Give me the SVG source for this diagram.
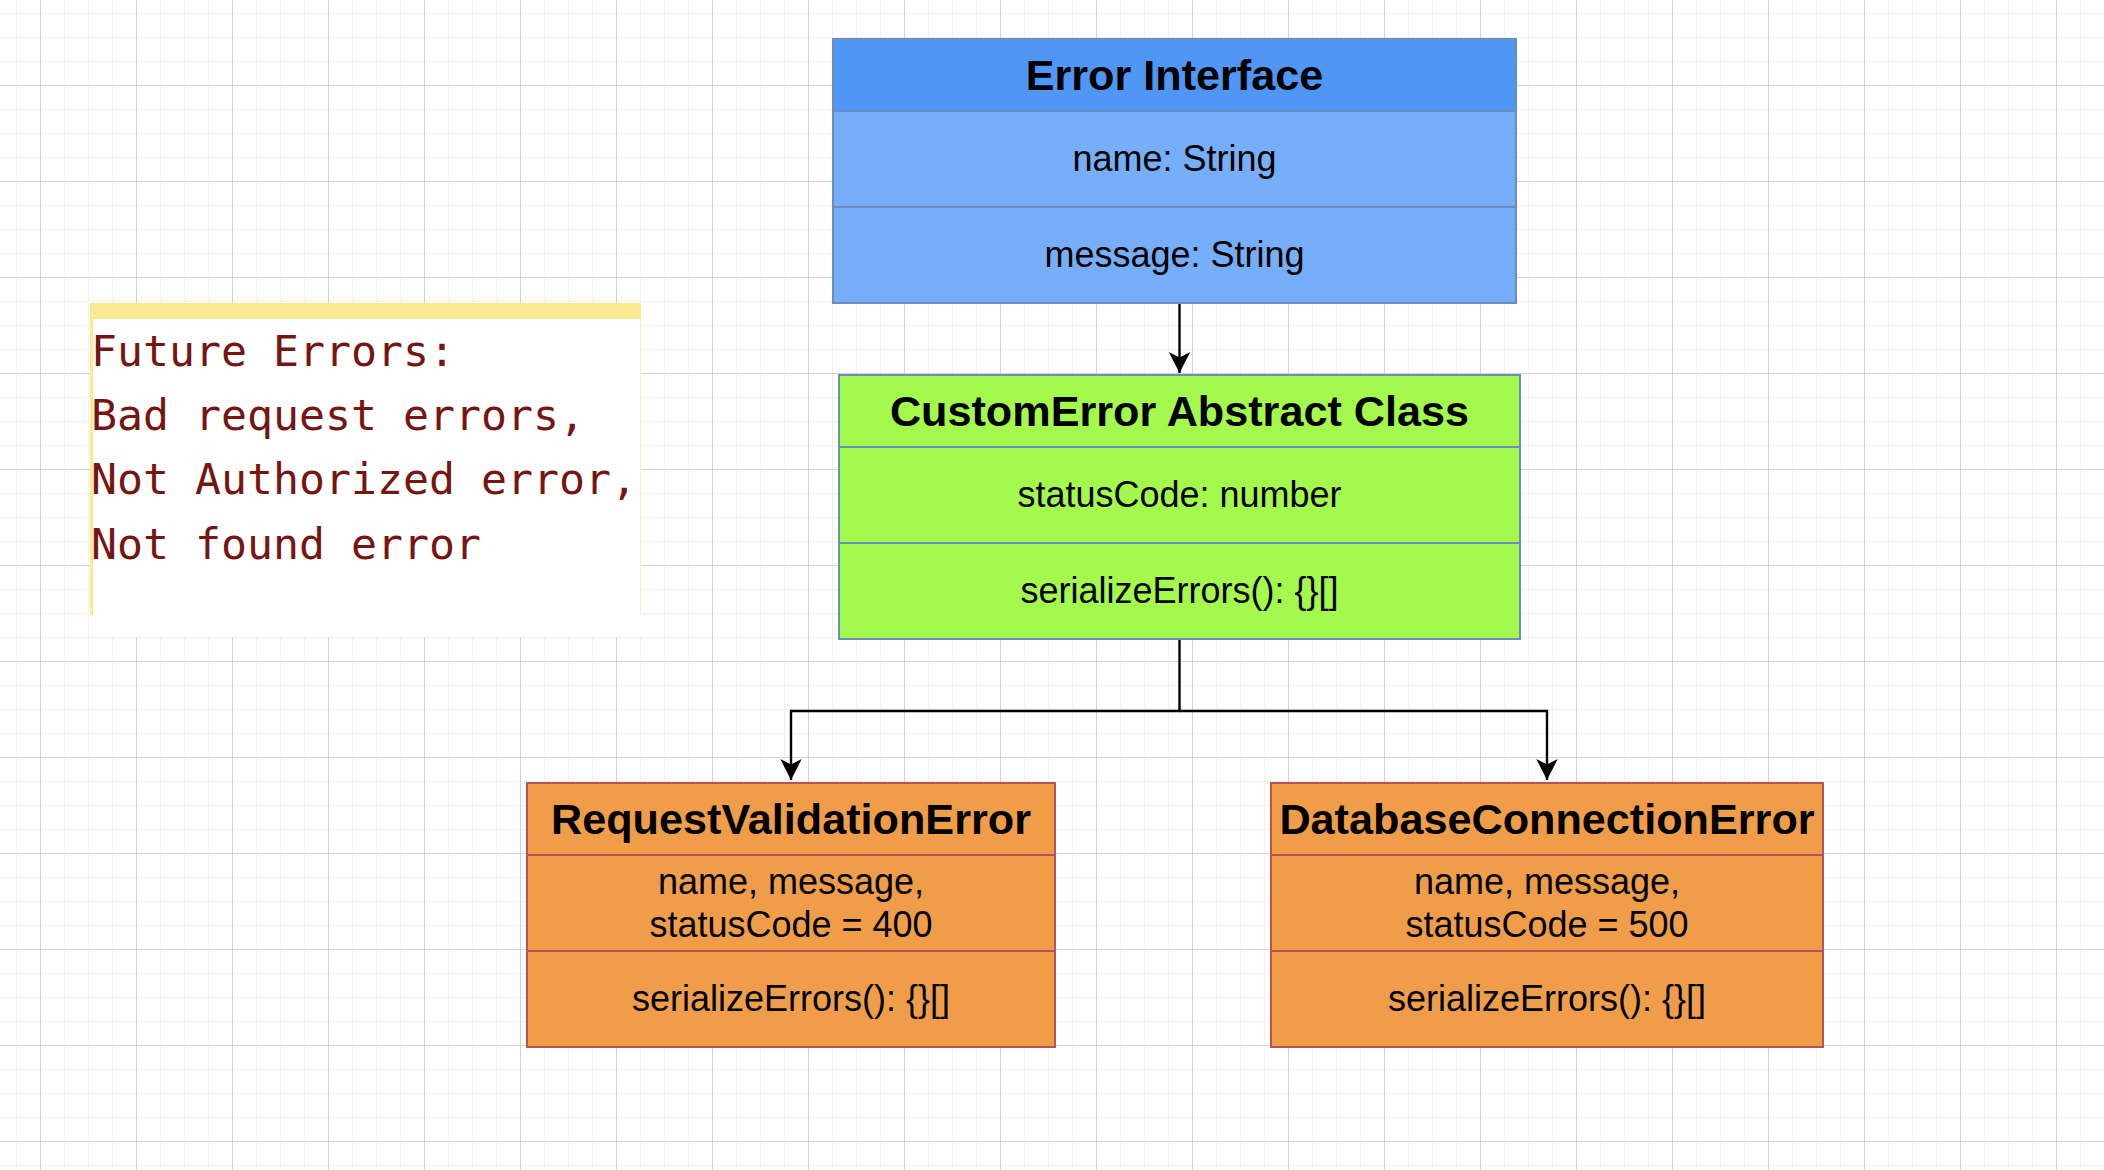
<svg xmlns="http://www.w3.org/2000/svg" width="2104" height="1170" viewBox="0 0 2104 1170">
<defs>
<pattern id="grid" patternUnits="userSpaceOnUse" x="40" y="85" width="96" height="96">
<rect x="24" y="0" width="1" height="96" fill="#f1f1f1"/>
<rect x="48" y="0" width="1" height="96" fill="#f1f1f1"/>
<rect x="72" y="0" width="1" height="96" fill="#f1f1f1"/>
<rect x="0" y="24" width="96" height="1" fill="#f1f1f1"/>
<rect x="0" y="48" width="96" height="1" fill="#f1f1f1"/>
<rect x="0" y="72" width="96" height="1" fill="#f1f1f1"/>
<rect x="0" y="0" width="1" height="96" fill="#d2d2d2"/>
<rect x="0" y="0" width="96" height="1" fill="#d2d2d2"/>
</pattern>
<marker id="arr" markerUnits="userSpaceOnUse" markerWidth="24" markerHeight="24" viewBox="-12 -22 24 24" refX="0" refY="0" orient="auto-start-reverse" overflow="visible">
<path d="M0,0 L-10.7,-21 L0,-15.5 L10.7,-21 Z" fill="#000" transform="rotate(-90)"/>
</marker>
</defs>
<style>
.t{font-family:"Liberation Sans",Arial,sans-serif;font-weight:bold;font-size:43.2px;fill:#000;text-anchor:middle}
.a{font-family:"Liberation Sans",Arial,sans-serif;font-size:36px;fill:#000;text-anchor:middle}
.blue{stroke:#6c8ebf;stroke-width:2}
.green{fill:#a3f94c;stroke:#6c8ebf;stroke-width:2}
.orange{fill:#f09d4a;stroke:#b85450;stroke-width:2}
.mono{font-family:"DejaVu Sans Mono","Liberation Mono",monospace;font-size:43.2px;fill:#761512}
.conn{fill:none;stroke:#000;stroke-width:2.4}
</style>
<rect width="2104" height="1170" fill="#fff"/>
<rect width="2104" height="1170" fill="url(#grid)"/>

<g id="note">
<rect x="90" y="303" width="551" height="334" fill="#fff"/>
<rect x="90" y="303" width="551" height="16" fill="#fbea92"/>
<rect x="90" y="319" width="3" height="296" fill="#fbea92"/>
<rect x="640" y="319" width="1" height="296" fill="#fcf1bd"/>
<text class="mono" x="91" y="366">Future Errors:</text>
<text class="mono" x="91" y="430">Bad request errors,</text>
<text class="mono" x="91" y="494">Not Authorized error,</text>
<text class="mono" x="91" y="559">Not found error</text>
</g>

<g id="connectors">
<path class="conn" d="M1179.5,303 V373" marker-end="url(#arr)"/>
<path class="conn" d="M1179.5,639 V711 H791 V780" marker-end="url(#arr)"/>
<path class="conn" d="M1179.5,711 H1547 V780" marker-end="url(#arr)"/>
</g>

<g id="error-interface">
<rect class="blue" x="833" y="39" width="683" height="72" fill="#5096f5"/>
<rect class="blue" x="833" y="111" width="683" height="96" fill="#76aef9"/>
<rect class="blue" x="833" y="207" width="683" height="96" fill="#76aef9"/>
<text class="t" x="1174.5" y="90">Error Interface</text>
<text class="a" x="1174.5" y="171">name: String</text>
<text class="a" x="1174.5" y="267">message: String</text>
</g>

<g id="custom-error">
<rect class="green" x="839" y="375" width="681" height="72"/>
<rect class="green" x="839" y="447" width="681" height="96"/>
<rect class="green" x="839" y="543" width="681" height="96"/>
<text class="t" x="1179.5" y="426">CustomError Abstract Class</text>
<text class="a" x="1179.5" y="507">statusCode: number</text>
<text class="a" x="1179.5" y="603">serializeErrors(): {}[]</text>
</g>

<g id="request-validation-error">
<rect class="orange" x="527" y="783" width="528" height="72"/>
<rect class="orange" x="527" y="855" width="528" height="96"/>
<rect class="orange" x="527" y="951" width="528" height="96"/>
<text class="t" x="791" y="834">RequestValidationError</text>
<text class="a" x="791" y="894">name, message,</text>
<text class="a" x="791" y="937">statusCode = 400</text>
<text class="a" x="791" y="1011">serializeErrors(): {}[]</text>
</g>

<g id="database-connection-error">
<rect class="orange" x="1271" y="783" width="552" height="72"/>
<rect class="orange" x="1271" y="855" width="552" height="96"/>
<rect class="orange" x="1271" y="951" width="552" height="96"/>
<text class="t" x="1547" y="834">DatabaseConnectionError</text>
<text class="a" x="1547" y="894">name, message,</text>
<text class="a" x="1547" y="937">statusCode = 500</text>
<text class="a" x="1547" y="1011">serializeErrors(): {}[]</text>
</g>
</svg>
